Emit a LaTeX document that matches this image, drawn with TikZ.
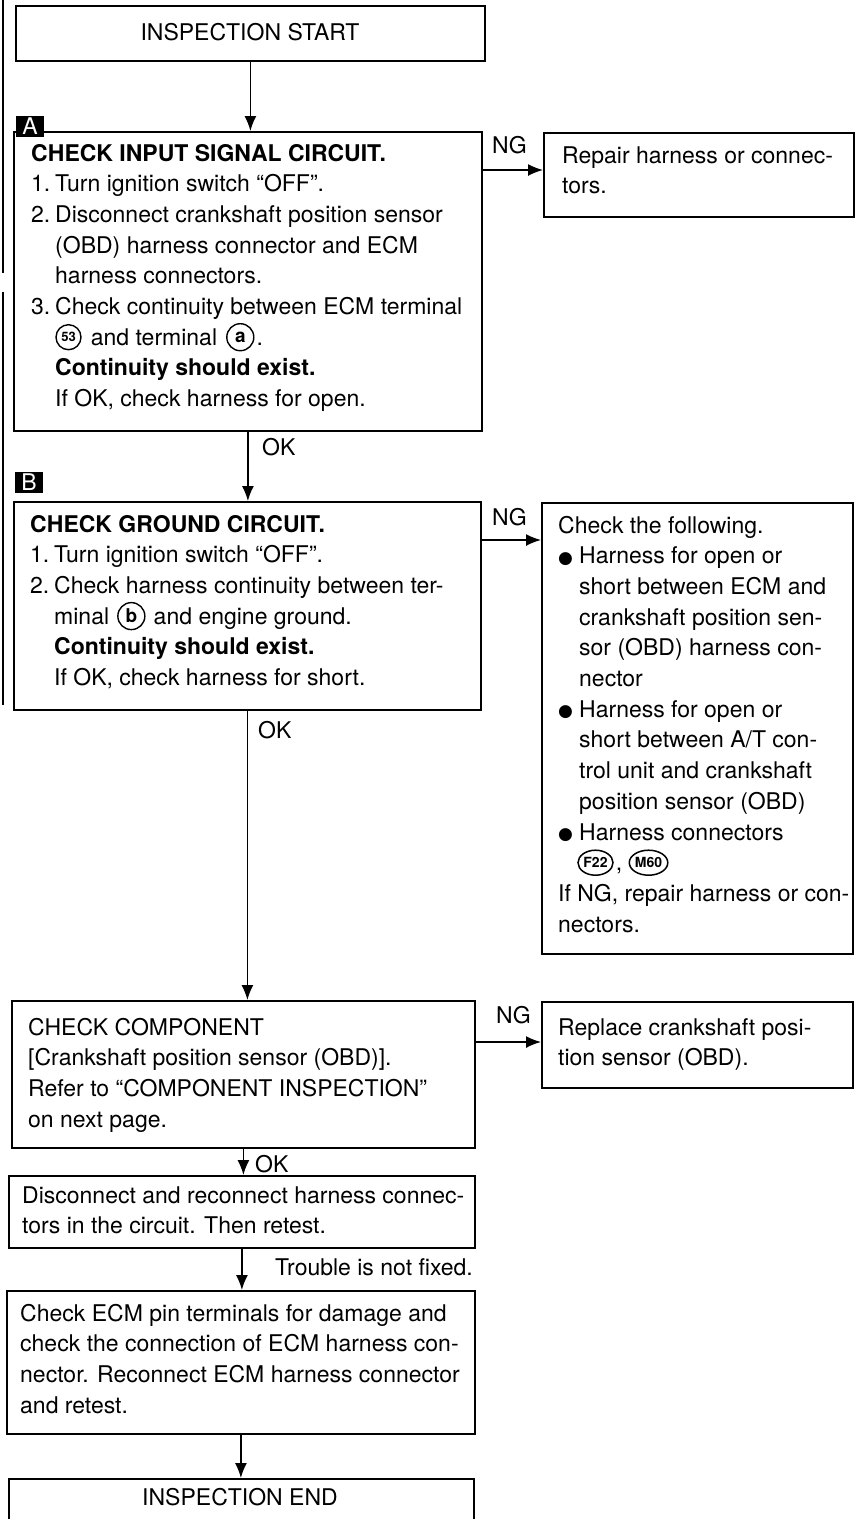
\documentclass[tikz,border=0pt]{standalone}
\usepackage{fontspec}
\setmainfont{TeX Gyre Heros}
\newfontfamily\djv{DejaVu Sans}
\usetikzlibrary{arrows.meta,calc,shapes.geometric}
\newcommand{\num}[1]{\makebox[24pt][l]{#1}}
\newcommand{\ind}{\hspace*{24pt}}
\newcommand{\bul}{\makebox[21pt][l]{\raisebox{0.5pt}{\djv\fontsize{17}{17}\selectfont ●}}}
\newcommand{\bind}{\hspace*{21pt}}
\begin{document}
\begin{tikzpicture}[x=1pt,y=-1pt,
  box/.style={draw, line width=1.8pt, rectangle, inner sep=0pt, anchor=north west},
  txt/.style={anchor=base west, inner sep=0pt, font=\fontsize{23}{30.7}\selectfont},
  lab/.style={inner sep=0pt, font=\fontsize{23}{30.7}\selectfont},
  arr/.style={line width=1.5pt, -{Latex[length=15pt,width=12pt]}},
  circ/.style={circle, draw, line width=1.4pt, inner sep=0pt, minimum size=25pt},
  oval/.style={ellipse, draw, line width=1.5pt, inner sep=0pt, minimum width=35pt, minimum height=25pt, font=\fontsize{14}{14}\selectfont\bfseries},
  tag/.style={fill=black, text=white, inner sep=0pt, minimum width=28pt, minimum height=21pt, font=\fontsize{23}{23}\selectfont}]
\useasboundingbox (0,0) rectangle (860,1519);
\fill[white] (0,0) rectangle (860,1519);

% margin bars
\draw[line width=1.5pt] (3,0) -- (3,273);
\draw[line width=1.5pt] (3,292) -- (3,705);

% boxes
\node[box, minimum width=469pt, minimum height=55pt] (start) at (15,5) {};
\node[box, minimum width=468pt, minimum height=299pt] (A) at (13,131) {};
\node[box, minimum width=310pt, minimum height=84pt] (R1) at (543,132) {};
\node[box, minimum width=467pt, minimum height=208pt] (B) at (13,501) {};
\node[box, minimum width=311pt, minimum height=451pt] (R2) at (541,502) {};
\node[box, minimum width=463pt, minimum height=147pt] (C) at (11,1000) {};
\node[box, minimum width=311pt, minimum height=86pt] (R3) at (541,1001) {};
\node[box, minimum width=466pt, minimum height=72pt] (D) at (8,1175) {};
\node[box, minimum width=468pt, minimum height=143pt] (E) at (6,1290) {};
\node[box, minimum width=465pt, minimum height=70pt] (End) at (8,1478) {};

% tags
\node[tag] (tA) at (30,126) {A};
\node[tag] (tB) at (29,482) {B};

% start / end text
\node[lab, anchor=base] (st) at (250,40) {INSPECTION START};
\node[lab, anchor=base] (en) at (240,1505) {INSPECTION END};

% A text
\foreach \t [count=\i from 0] in {
  {\bfseries CHECK INPUT SIGNAL CIRCUIT.},
  {\num{1.}Turn ignition switch “OFF”.},
  {\num{2.}Disconnect crankshaft position sensor},
  {\ind(OBD) harness connector and ECM},
  {\ind harness connectors.},
  {\num{3.}Check continuity between ECM terminal},
  {},
  {\ind\bfseries Continuity should exist.},
  {\ind If OK, check harness for open.}}
  \node[txt] (a\i) at (31,{161+30.7*\i}) {\t};
\coordinate (a6l) at (56,345.2);
\node[circ, font=\fontsize{13}{13}\selectfont\bfseries] (c53) at ($(a6l)+(12.5,-8)$) {53};
\node[txt] (a6b) at ($(c53.east |- a6l)+(9,0)$) {and terminal};
\node[circ, minimum size=27pt, font=\fontsize{19}{19}\selectfont\bfseries] (ca) at ($(a6b.base east)+(23,-8)$) {a};
\node[txt] (a6c) at ($(ca.east |- a6l)+(2,0)$) {.};

% R1 text
\foreach \t [count=\i from 0] in {{Repair harness or connec-},{tors.}}
  \node[txt] (r1\i) at (562,{163+30.7*\i}) {\t};

% B text
\foreach \t [count=\i from 0] in {
  {\bfseries CHECK GROUND CIRCUIT.},
  {\num{1.}Turn ignition switch “OFF”.},
  {\num{2.}Check harness continuity between ter-},
  {},
  {\ind\bfseries Continuity should exist.},
  {\ind If OK, check harness for short.}}
  \node[txt] (b\i) at (30,{532+30.7*\i}) {\t};
\coordinate (b3l) at (54,624.1);
\node[txt] (b3a) at (b3l) {minal};
\node[circ, minimum size=27pt, font=\fontsize{19}{19}\selectfont\bfseries] (cb) at ($(b3a.base east)+(22,-8)$) {b};
\node[txt] (b3b) at ($(cb.east |- b3l)+(8,0)$) {and engine ground.};

% R2 text
\foreach \t [count=\i from 0] in {
  {Check the following.},
  {\bul Harness for open or},
  {\bind short between ECM and},
  {\bind crankshaft position sen-},
  {\bind sor (OBD) harness con-},
  {\bind nector},
  {\bul Harness for open or},
  {\bind short between A/T con-},
  {\bind trol unit and crankshaft},
  {\bind position sensor (OBD)},
  {\bul Harness connectors},
  {},
  {If NG, repair harness or con-},
  {nectors.}}
  \node[txt] (r2\i) at (558,{533+30.7*\i}) {\t};
\coordinate (r2l) at (578,870.7);
\node[oval] (f22) at ($(r2l)+(17.5,-8)$) {F22};
\node[txt] (r2c) at ($(f22.east |- r2l)+(2,0)$) {,};
\node[oval] (m60) at ($(r2c.base east)+(26,-8)$) {M60};

% C text
\foreach \t [count=\i from 0] in {
  {CHECK COMPONENT},
  {[Crankshaft position sensor (OBD)].},
  {Refer to “COMPONENT INSPECTION”},
  {on next page.}}
  \node[txt] (c\i) at (28,{1035+30.7*\i}) {\t};

% R3 text
\foreach \t [count=\i from 0] in {{Replace crankshaft posi-},{tion sensor (OBD).}}
  \node[txt] (r3\i) at (558,{1035+30.7*\i}) {\t};

% D text
\foreach \t [count=\i from 0] in {{Disconnect and reconnect harness connec-},{tors in the circuit. Then retest.}}
  \node[txt] (d\i) at (22,{1203+30.7*\i}) {\t};

% E text
\foreach \t [count=\i from 0] in {
  {Check ECM pin terminals for damage and},
  {check the connection of ECM harness con-},
  {nector. Reconnect ECM harness connector},
  {and retest.}}
  \node[txt] (e\i) at (20,{1321+30.7*\i}) {\t};

% vertical connectors
\draw[arr] (start.south) -- (start.south |- A.north);
\draw[arr] (A.south) -- (A.south |- B.north);
\draw[arr] (B.south) -- (B.south |- C.north);
\draw[arr] (C.south) -- (C.south |- D.north);
\draw[arr] (D.south) -- (D.south |- E.north);
\draw[arr] (E.south) -- (E.south |- End.north);

% NG connectors
\coordinate (ngA) at ([yshift=-39pt]A.north east);
\draw[arr] (ngA) -- (ngA -| R1.west);
\coordinate (ngB) at ([yshift=-39pt]B.north east);
\draw[arr] (ngB) -- (ngB -| R2.west);
\coordinate (ngC) at ([yshift=-42pt]C.north east);
\draw[arr] (ngC) -- (ngC -| R3.west);

% labels
\node[lab, anchor=base west] (lNGA) at (492,153) {NG};
\node[lab, anchor=base west] (lNGB) at (492,525) {NG};
\node[lab, anchor=base west] (lNGC) at (496,1023) {NG};
\node[lab, anchor=base west] (lOKA) at (262,455) {OK};
\node[lab, anchor=base west] (lOKB) at (258,738) {OK};
\node[lab, anchor=base west] (lOKC) at (255,1172) {OK};
\node[lab, anchor=base east] (lTr) at (473,1275) {Trouble is not fixed.};
\end{tikzpicture}
\end{document}
